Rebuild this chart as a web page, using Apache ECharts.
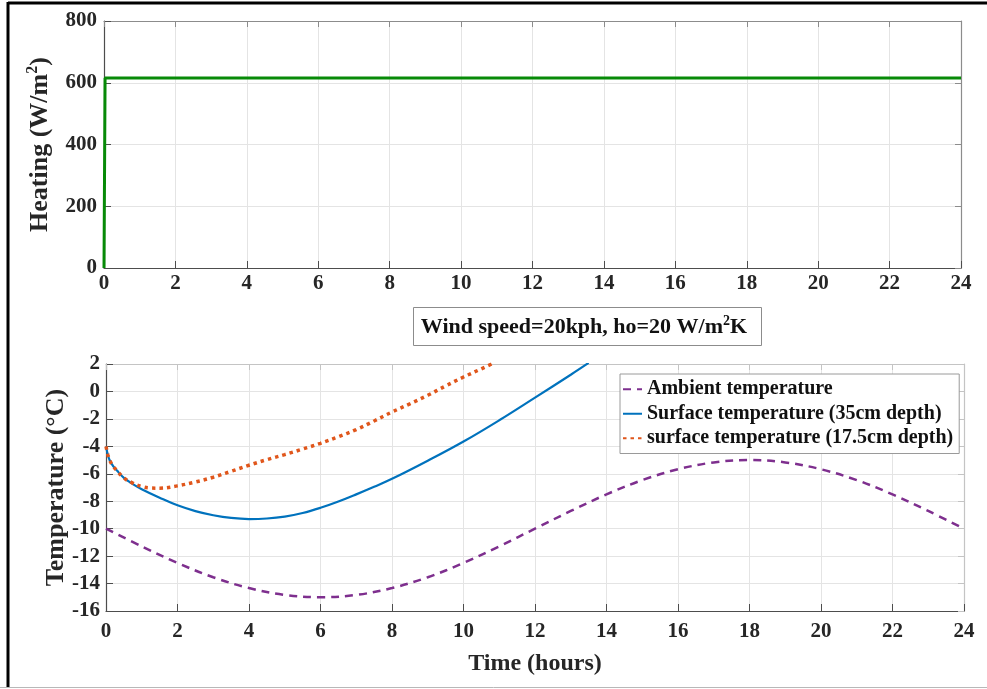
<!DOCTYPE html>
<html>
<head>
<meta charset="utf-8">
<script src="https://cdn.jsdelivr.net/npm/echarts@6/dist/echarts.min.js"></script>
<style>
  html, body { margin: 0; padding: 0; background: #fff; }
  #chart { width: 987px; height: 689px; }
</style>
</head>
<body>
<div id="chart"></div>
<script>
// Time ticks (hours) shared by both panels
const hourTicks = [0, 2, 4, 6, 8, 10, 12, 14, 16, 18, 20, 22, 24];

// Heating input (W/m2) against time (hours)
const heatingTime = [0, 0.03, 24];
const heatingValue = [0, 615, 615];

// Ambient air temperature (°C), hourly
const ambientTime = [0, 1, 2, 3, 4, 5, 6, 7, 8, 9, 10, 11, 12, 13, 14, 15, 16, 17, 18, 19, 20, 21, 22, 23, 24];
const ambientTemp = [-10, -11.29, -12.5, -13.54, -14.33, -14.83, -15, -14.83, -14.33, -13.54, -12.5, -11.29, -10,
  -8.71, -7.5, -6.46, -5.67, -5.17, -5, -5.17, -5.67, -6.46, -7.5, -8.71, -10];

// Slab surface temperature, heating pipes at 35 cm depth
const deepTime = [0, 0.05, 0.1, 0.2, 0.3, 0.5, 0.75, 1, 1.5, 2, 2.5, 3, 3.5, 4, 4.5, 5, 5.5, 6, 6.5, 7, 7.5, 8,
  9, 10, 11, 12, 13, 13.5];
const deepTemp = [-4.0, -4.6, -5.0, -5.45, -5.75, -6.3, -6.75, -7.12, -7.74, -8.3, -8.72, -9.02, -9.22, -9.3, -9.26,
  -9.12, -8.86, -8.48, -8.02, -7.5, -6.95, -6.37, -5.05, -3.65, -2.1, -0.45, 1.22, 2.08];

// Slab surface temperature, heating pipes at 17.5 cm depth
const shallowTime = [0, 0.05, 0.1, 0.2, 0.3, 0.5, 0.75, 1, 1.25, 1.5, 2, 2.5, 3, 3.5, 4, 4.5, 5, 5.5, 6, 6.5, 7,
  7.5, 8, 8.5, 9, 9.5, 10, 10.5, 10.85];
const shallowTemp = [-4.0, -4.6, -5.0, -5.45, -5.75, -6.3, -6.68, -6.93, -7.04, -7.05, -6.88, -6.6, -6.25, -5.82,
  -5.38, -4.97, -4.6, -4.2, -3.78, -3.3, -2.78, -2.15, -1.5, -0.9, -0.28, 0.4, 1.05, 1.65, 2.08];

const seriesNames = ['Ambient temperature', 'Surface temperature (35cm depth)', 'surface temperature (17.5cm depth)'];
const boxNote = 'Wind speed=20kph, ho=20 W/m';

const pair = (xs, ys) => xs.map((x, i) => [x, ys[i]]);

const FONT = '"Liberation Serif", "Times New Roman", serif';
const INK = '#262626';
const GRIDLINE = '#e4e4e4';

const labelStyle = { fontFamily: FONT, fontWeight: 'bold', fontSize: 21, color: INK };
function nameStyle(size) {
  return {
    fontFamily: FONT, fontWeight: 'bold', fontSize: size, color: INK,
    rich: {
      a: { fontFamily: FONT, fontWeight: 'bold', fontSize: size, color: INK },
      s: { fontFamily: FONT, fontWeight: 'bold', fontSize: Math.round(size * 0.6), color: INK,
           padding: [0, 0, Math.round(size * 0.55), 0] }
    }
  };
}

function mainX(grid, withName, margin) {
  return {
    type: 'value', gridIndex: grid, min: 0, max: 24, interval: 2,
    position: 'bottom',
    axisLine: { show: true, onZero: false, lineStyle: { color: '#4d4d4d', width: 1.2 } },
    axisTick: { show: true, inside: true, length: 7, lineStyle: { color: '#4d4d4d' } },
    axisLabel: Object.assign({ margin: margin, customValues: hourTicks }, labelStyle),
    splitLine: { show: true, lineStyle: { color: GRIDLINE, width: 1 } },
    name: withName ? 'Time (hours)' : '',
    nameLocation: 'middle', nameGap: 41, nameMoveOverlap: false,
    nameTextStyle: nameStyle(24)
  };
}
function boxX(grid, col) {
  return {
    type: 'value', gridIndex: grid, min: 0, max: 24, interval: 2, position: 'top',
    axisLine: { show: true, onZero: false, lineStyle: { color: col, width: 1.2 } },
    axisTick: { show: true, inside: true, length: 6, lineStyle: { color: col } },
    axisLabel: { show: false }, splitLine: { show: false }
  };
}
function boxY(grid, min, max, interval, col) {
  return {
    type: 'value', gridIndex: grid, min, max, interval, position: 'right',
    axisLine: { show: true, onZero: false, lineStyle: { color: col, width: 1.2 } },
    axisTick: { show: true, inside: true, length: 6, lineStyle: { color: col } },
    axisLabel: { show: false }, splitLine: { show: false }
  };
}

const chart = echarts.init(document.getElementById('chart'), null, { renderer: 'canvas' });

chart.setOption({
  backgroundColor: '#fff',
  animation: false,
  grid: [
    { left: 104, right: 26, top: 21, height: 247 },
    { left: 106, right: 23, top: 364, height: 247 }
  ],
  xAxis: [
    mainX(0, false, 5),
    mainX(1, true, 10),
    boxX(0, '#8c8c8c'),
    boxX(1, '#c4c4c4')
  ],
  yAxis: [
    {
      type: 'value', gridIndex: 0, min: 0, max: 800, interval: 200,
      axisLine: { show: true, lineStyle: { color: '#4d4d4d', width: 1.2 } },
      axisTick: { show: true, inside: true, length: 7, lineStyle: { color: '#4d4d4d' } },
      axisLabel: Object.assign({ margin: 7 }, labelStyle),
      splitLine: { show: true, lineStyle: { color: GRIDLINE, width: 1 } },
      name: '{a|Heating (W/m}{s|2}{a|)}',
      nameLocation: 'middle', nameGap: 49, nameMoveOverlap: false,
      nameTextStyle: nameStyle(26)
    },
    {
      type: 'value', gridIndex: 1, min: -16, max: 2, interval: 2,
      axisLine: { show: true, onZero: false, lineStyle: { color: '#4d4d4d', width: 1.2 } },
      axisTick: { show: true, inside: true, length: 7, lineStyle: { color: '#4d4d4d' } },
      axisLabel: Object.assign({ margin: 6 }, labelStyle),
      splitLine: { show: true, lineStyle: { color: GRIDLINE, width: 1 } },
      name: 'Temperature (°C)',
      nameLocation: 'middle', nameGap: 37, nameMoveOverlap: false,
      nameTextStyle: nameStyle(26)
    },
    boxY(0, 0, 800, 200, '#8c8c8c'),
    boxY(1, -16, 2, 2, '#c4c4c4')
  ],
  legend: {
    data: seriesNames,
    orient: 'vertical',
    left: 620, top: 374,
    padding: [5, 6, 5, 2],
    itemWidth: 19, itemHeight: 10, itemGap: 4,
    backgroundColor: '#fff',
    borderColor: '#9a9a9a', borderWidth: 1,
    itemStyle: { opacity: 0 },
    textStyle: { fontFamily: FONT, fontWeight: 'bold', fontSize: 20, color: '#111', lineHeight: 20.5 }
  },
  series: [
    {
      type: 'line', xAxisIndex: 0, yAxisIndex: 0, data: pair(heatingTime, heatingValue),
      symbol: 'none', lineStyle: { color: '#078a07', width: 3 }, itemStyle: { color: '#078a07' },
      clip: true
    },
    {
      name: seriesNames[0], type: 'line', xAxisIndex: 1, yAxisIndex: 1,
      data: pair(ambientTime, ambientTemp), smooth: 0.35, symbol: 'none',
      lineStyle: { color: '#7e2f8e', width: 2.5, type: [8, 6] }, itemStyle: { color: '#7e2f8e' },
      clip: true
    },
    {
      name: seriesNames[1], type: 'line', xAxisIndex: 1, yAxisIndex: 1,
      data: pair(deepTime, deepTemp), smooth: 0.4, symbol: 'none',
      lineStyle: { color: '#0072bd', width: 2.2 }, itemStyle: { color: '#0072bd' },
      clip: true
    },
    {
      name: seriesNames[2], type: 'line', xAxisIndex: 1, yAxisIndex: 1,
      data: pair(shallowTime, shallowTemp), smooth: 0.4, symbol: 'none',
      lineStyle: { color: '#e0561b', width: 3.5, type: [3.5, 4] }, itemStyle: { color: '#e0561b' },
      clip: true
    }
  ],
  graphic: [
    // page frame
    { type: 'line', shape: { x1: 8, y1: 3, x2: 987, y2: 3 }, style: { stroke: '#000', lineWidth: 3 }, silent: true },
    { type: 'line', shape: { x1: 8, y1: 2, x2: 8, y2: 687 }, style: { stroke: '#000', lineWidth: 3 }, silent: true },
    { type: 'line', shape: { x1: 0, y1: 687.5, x2: 987, y2: 687.5 }, style: { stroke: '#b8b8b8', lineWidth: 1 }, silent: true },
    // annotation box between the panels
    { type: 'rect', shape: { x: 413.5, y: 307.5, width: 348, height: 38 },
      style: { fill: '#fff', stroke: '#8c8c8c', lineWidth: 1 }, silent: true, z: 10 },
    { type: 'text', x: 584, y: 327, z: 11, silent: true,
      style: {
        text: '{a|' + boxNote + '}{s|2}{a|K}',
        align: 'center', verticalAlign: 'middle',
        rich: {
          a: { fontFamily: FONT, fontWeight: 'bold', fontSize: 22, fill: '#111' },
          s: { fontFamily: FONT, fontWeight: 'bold', fontSize: 14, fill: '#111', padding: [0, 0, 12, 0] }
        }
      }
    }
  ]
});
</script>
</body>
</html>
